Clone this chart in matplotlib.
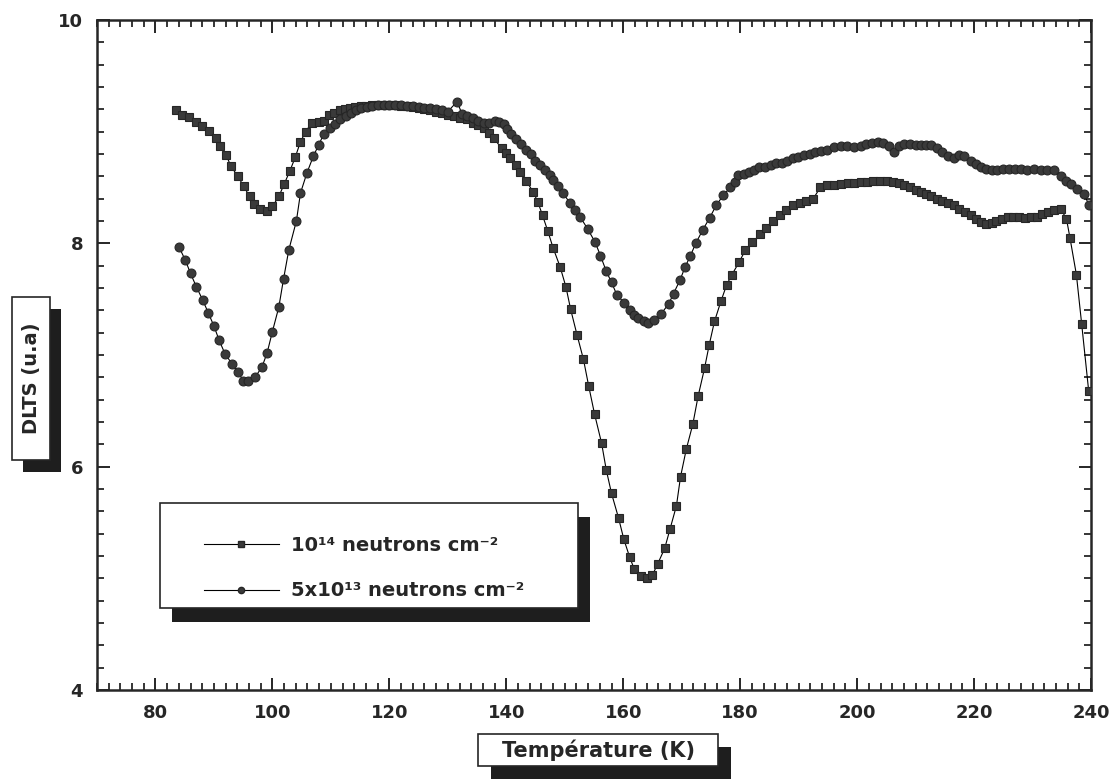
import matplotlib
matplotlib.use("Agg")
import matplotlib.pyplot as plt
from matplotlib.patches import Rectangle
from matplotlib.lines import Line2D
from matplotlib.ticker import MultipleLocator

# ---------------- data ----------------
T_sq = [83.5, 84.5, 85.7, 86.9, 87.9, 89.1, 90.3, 91.1, 92.1, 92.9, 94.1, 95.1, 96.1, 96.9, 97.9,
        99.0, 100.0, 101.1, 102.0, 103.0, 103.9, 104.8, 105.7, 106.7, 107.9, 108.8, 109.7, 110.6,
        111.5, 112.4, 113.3, 114.2, 115.1, 116.0, 117.0, 118.0, 119.0, 120.0, 121.0, 122.0, 123.0,
        124.0, 125.0, 126.0, 127.0, 128.0, 129.0, 130.0, 131.0, 132.0, 133.3, 134.3, 135.2, 136.2,
        137.0, 137.9, 139.2, 140.0, 140.7, 141.6, 142.4, 143.4, 144.6, 145.4, 146.2, 147.1, 148.0,
        149.2, 150.2, 151.0, 152.1, 153.2, 154.1, 155.1, 156.3, 157.1, 158.0, 159.2, 160.1, 161.1,
        161.9, 163.0, 164.1, 165.0, 165.9, 167.1, 168.0, 169.1, 169.8, 170.8, 171.9, 172.8, 173.9,
        174.7, 175.6, 176.7, 177.7, 178.6, 179.8, 180.9, 182.1, 183.4, 184.4, 185.6, 186.8, 187.9,
        189.1, 190.3, 191.3, 192.5, 193.7, 194.8, 196.0, 197.2, 198.4, 199.5, 200.6, 201.7, 202.8,
        203.9, 205.1, 206.2, 207.1, 208.0, 209.0, 210.0, 210.9, 211.8, 212.7, 213.6, 214.6, 215.5,
        216.5, 217.5, 218.4, 219.4, 220.3, 221.2, 222.1, 223.0, 223.8, 224.8, 225.8, 226.7, 227.7,
        228.7, 229.7, 230.7, 231.6, 232.6, 233.6, 234.8, 235.8, 236.4, 237.5, 238.4, 239.6]
D_sq = [9.19, 9.15, 9.13, 9.09, 9.05, 9.01, 8.94, 8.87, 8.79, 8.69, 8.60, 8.51, 8.42, 8.35, 8.31,
        8.29, 8.33, 8.42, 8.53, 8.65, 8.77, 8.91, 9.00, 9.08, 9.09, 9.10, 9.15, 9.17,
        9.19, 9.20, 9.21, 9.22, 9.23, 9.23, 9.24, 9.24, 9.24, 9.24, 9.24, 9.23, 9.23,
        9.22, 9.21, 9.20, 9.19, 9.18, 9.17, 9.15, 9.14, 9.12, 9.11, 9.08, 9.06, 9.03,
        8.99, 8.94, 8.85, 8.81, 8.76, 8.70, 8.64, 8.56, 8.46, 8.37, 8.25, 8.11, 7.96,
        7.79, 7.61, 7.41, 7.18, 6.96, 6.72, 6.47, 6.21, 5.97, 5.76, 5.54, 5.35, 5.19,
        5.08, 5.02, 5.00, 5.03, 5.13, 5.27, 5.44, 5.65, 5.91, 6.16, 6.38, 6.63, 6.88,
        7.09, 7.30, 7.48, 7.63, 7.72, 7.83, 7.94, 8.01, 8.08, 8.14, 8.20, 8.25, 8.30,
        8.34, 8.36, 8.38, 8.40, 8.50, 8.52, 8.52, 8.53, 8.54, 8.54, 8.55, 8.55, 8.56,
        8.56, 8.56, 8.55, 8.54, 8.52, 8.50, 8.48, 8.46, 8.44, 8.42, 8.40, 8.38, 8.36,
        8.34, 8.31, 8.28, 8.25, 8.22, 8.19, 8.17, 8.18, 8.20, 8.22, 8.24, 8.24, 8.24,
        8.23, 8.24, 8.24, 8.26, 8.28, 8.30, 8.31, 8.22, 8.05, 7.72, 7.28, 6.68]

T_ci = [84.0, 85.1, 86.0, 87.0, 88.1, 89.0, 90.0, 90.9, 91.9, 93.1, 94.1, 95.0, 95.8, 97.0, 98.2,
        99.1, 100.0, 101.1, 101.9, 102.8, 104.1, 104.8, 105.9, 107.0, 107.9, 108.8, 109.8, 110.7,
        111.6, 112.5, 113.4, 114.3, 115.2, 116.1, 117.0, 118.0, 119.0, 120.0, 121.0, 122.0, 123.0,
        124.0, 125.0, 126.0, 127.0, 128.0, 129.0, 130.0, 131.6, 132.4, 133.3, 134.3, 135.2, 136.2,
        137.1, 138.0, 138.8, 139.6, 140.2, 140.8, 141.6, 142.5, 143.4, 144.2, 144.9, 145.8, 146.7,
        147.4, 148.0, 148.9, 149.7, 150.9, 151.7, 152.6, 153.9, 155.2, 156.1, 157.1, 158.0, 158.9,
        160.1, 161.1, 161.8, 162.6, 163.5, 164.3, 165.3, 166.5, 167.8, 168.6, 169.7, 170.6, 171.5,
        172.4, 173.6, 174.8, 175.9, 177.1, 178.3, 179.1, 179.7, 180.6, 181.5, 182.3, 183.3, 184.2,
        185.2, 186.1, 187.1, 188.0, 189.0, 189.9, 190.9, 191.9, 192.8, 193.8, 194.9, 196.0, 197.2,
        198.3, 199.4, 200.6, 201.6, 202.5, 203.5, 204.5, 205.4, 206.3, 207.2, 208.1, 209.0, 210.0,
        210.9, 211.8, 212.7, 213.6, 214.6, 215.6, 216.6, 217.5, 218.3, 219.5, 220.3, 221.2, 222.1,
        223.0, 223.9, 224.9, 225.9, 227.0, 228.0, 229.1, 230.3, 231.4, 232.5, 233.7, 234.9, 235.8,
        236.6, 237.6, 238.8, 239.7]
D_ci = [7.97, 7.85, 7.73, 7.61, 7.49, 7.38, 7.26, 7.13, 7.01, 6.92, 6.85, 6.77, 6.77, 6.80, 6.89,
        7.02, 7.21, 7.43, 7.68, 7.94, 8.20, 8.45, 8.63, 8.78, 8.88, 8.98, 9.03, 9.07,
        9.11, 9.14, 9.17, 9.19, 9.21, 9.22, 9.23, 9.24, 9.24, 9.24, 9.24, 9.24, 9.23,
        9.23, 9.22, 9.21, 9.21, 9.20, 9.19, 9.18, 9.27, 9.16, 9.14, 9.12, 9.10, 9.08,
        9.08, 9.10, 9.09, 9.07, 9.02, 8.98, 8.93, 8.89, 8.84, 8.80, 8.74, 8.70, 8.66,
        8.61, 8.57, 8.51, 8.45, 8.36, 8.30, 8.24, 8.13, 8.01, 7.89, 7.75, 7.65, 7.54,
        7.47, 7.40, 7.36, 7.33, 7.30, 7.29, 7.31, 7.37, 7.46, 7.55, 7.67, 7.79, 7.89,
        8.00, 8.12, 8.23, 8.34, 8.43, 8.50, 8.55, 8.61, 8.62, 8.64, 8.66, 8.68, 8.68,
        8.70, 8.72, 8.72, 8.74, 8.76, 8.77, 8.79, 8.80, 8.82, 8.83, 8.84, 8.86, 8.87,
        8.87, 8.86, 8.87, 8.89, 8.90, 8.91, 8.90, 8.87, 8.82, 8.87, 8.89, 8.89, 8.88,
        8.88, 8.88, 8.88, 8.85, 8.82, 8.78, 8.76, 8.79, 8.78, 8.74, 8.71, 8.68, 8.67,
        8.66, 8.66, 8.67, 8.67, 8.67, 8.67, 8.66, 8.67, 8.66, 8.66, 8.66, 8.60, 8.56,
        8.53, 8.49, 8.44, 8.34]

label_sq = "10\u00b9\u2074 neutrons cm\u207b\u00b2"
label_ci = "5x10\u00b9\u00b3 neutrons cm\u207b\u00b2"
x_ticks = [80, 100, 120, 140, 160, 180, 200, 220, 240]
y_ticks = [4, 6, 8, 10]
x_title = "Température (K)"
y_title = "DLTS (u.a)"

# ---------------- figure ----------------
W, H = 1117, 779
fig = plt.figure(figsize=(W / 100, H / 100), dpi=100)
plt.rcParams['font.family'] = ['DejaVu Sans']

def fx(px):
    return px / W

def fy(py):
    return 1 - py / H

ax_l, ax_r, ax_t, ax_b = 97, 1091, 20, 690
ax = fig.add_axes([fx(ax_l), fy(ax_b), fx(ax_r) - fx(ax_l), fy(ax_t) - fy(ax_b)])

ink = '#262626'
ax.plot(T_sq, D_sq, color='black', lw=0.8, marker='s', markersize=5.6,
        markerfacecolor='#3a3a3a', markeredgecolor=ink, markeredgewidth=0.8,
        label=label_sq, zorder=3)
ax.plot(T_ci, D_ci, color='black', lw=0.8, marker='o', markersize=6.4,
        markerfacecolor='#3a3a3a', markeredgecolor=ink, markeredgewidth=0.8,
        label=label_ci, zorder=3)

ax.set_xlim(70, 240)
ax.set_ylim(4, 10)
ax.set_xticks(x_ticks)
ax.set_yticks(y_ticks)
ax.xaxis.set_minor_locator(MultipleLocator(2))
ax.yaxis.set_minor_locator(MultipleLocator(0.2))
ax.tick_params(which='both', direction='in', top=True, right=True, color=ink)
ax.tick_params(which='major', length=9, width=1.4, labelsize=13, pad=10, labelcolor=ink)
ax.tick_params(which='minor', length=5, width=1.3)
for lab in ax.get_xticklabels() + ax.get_yticklabels():
    lab.set_fontweight('bold')
for sp in ax.spines.values():
    sp.set_linewidth(1.8)
    sp.set_color(ink)

# ---------- boxed titles with drop shadows ----------
def shadow_box(x0, y0, x1, y1, offx, offy, z):
    fig.patches.append(Rectangle((fx(x0 + offx), fy(y1 + offy)), fx(x1 - x0), fy(y0) - fy(y1),
                                 transform=fig.transFigure, facecolor='#1e1e1e',
                                 edgecolor='none', zorder=z))
    fig.patches.append(Rectangle((fx(x0), fy(y1)), fx(x1 - x0), fy(y0) - fy(y1),
                                 transform=fig.transFigure, facecolor='white',
                                 edgecolor=ink, linewidth=1.2, zorder=z + 0.5))

# y title box
shadow_box(12, 297, 50, 460, 11, 12, 2)
fig.text(fx(31), fy(378), y_title, rotation=90, ha='center', va='center',
         fontsize=14, fontweight='bold', color=ink, zorder=5)

# x title box
shadow_box(478, 734, 718, 766, 13, 13, 2)
fig.text(fx(598), fy(750), x_title, ha='center', va='center',
         fontsize=15, fontweight='bold', color=ink, zorder=5)

# legend box
shadow_box(160, 503, 578, 608, 12, 14, 4)

handles = [Line2D([], [], color='black', lw=0.8, marker='s', markersize=4,
                  markerfacecolor='#3a3a3a', markeredgecolor=ink),
           Line2D([], [], color='black', lw=0.8, marker='o', markersize=4.5,
                  markerfacecolor='#3a3a3a', markeredgecolor=ink)]
leg = fig.legend(handles, [label_sq, label_ci], loc='center left',
                 bbox_to_anchor=(fx(186), fy(568)), bbox_transform=fig.transFigure,
                 frameon=False, handlelength=3.9, handletextpad=0.6, labelspacing=1.37,
                 prop={'weight': 'bold', 'size': 14})
leg.set_zorder(6)
for t in leg.get_texts():
    t.set_color(ink)

fig.savefig('out.png', dpi=100)
